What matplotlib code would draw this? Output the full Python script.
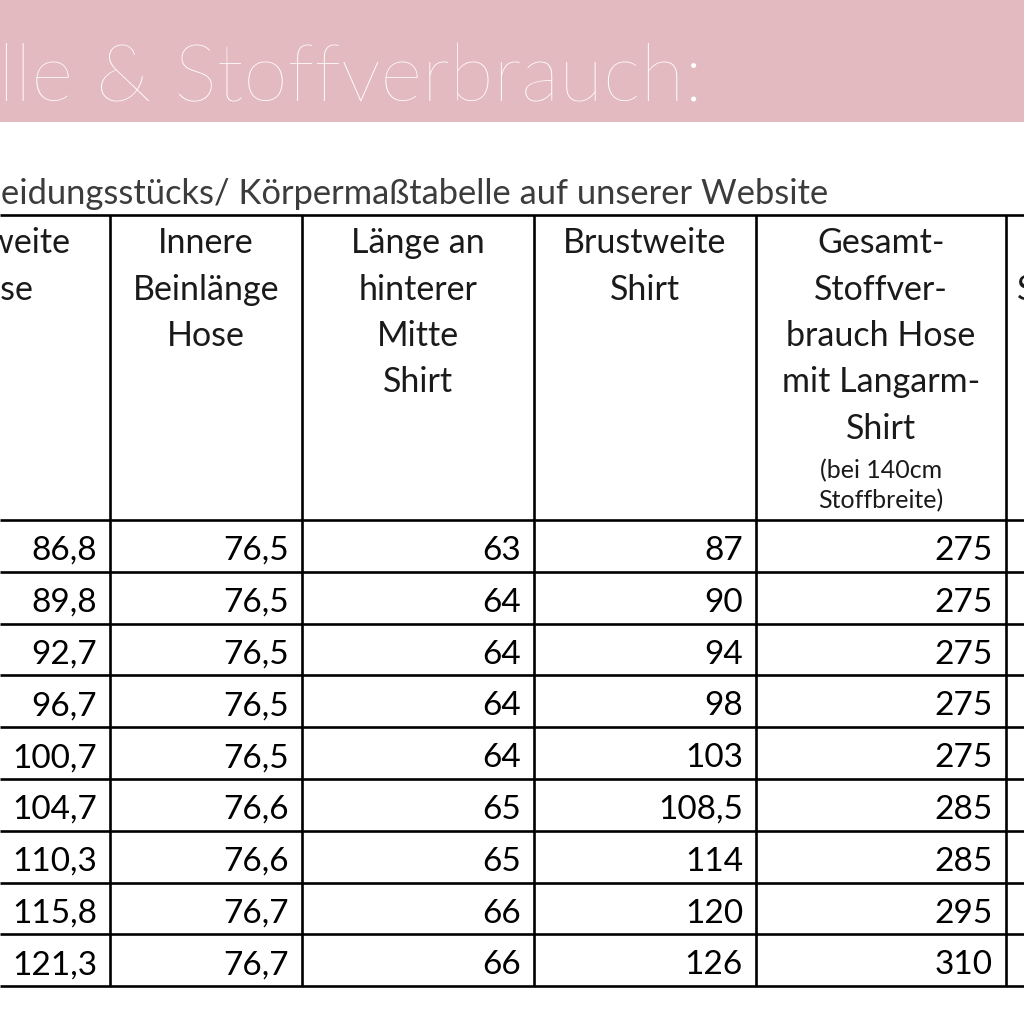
import matplotlib.pyplot as plt

# table content (left part of the table is cut off in the screenshot)
title = "lle & Stoffverbrauch:"
subtitle = "eidungsstücks/ Körpermaßtabelle auf unserer Website"

headers = [
    ["Hüftweite", "Hose"],
    ["Innere", "Beinlänge", "Hose"],
    ["Länge an", "hinterer", "Mitte", "Shirt"],
    ["Brustweite", "Shirt"],
    ["Gesamt-", "Stoffver-", "brauch Hose", "mit Langarm-", "Shirt"],
]
header_cut = ["", "S"]
header_note = ["(bei 140cm", "Stoffbreite)"]

hueftweite = ["86,8", "89,8", "92,7", "96,7", "100,7", "104,7", "110,3", "115,8", "121,3"]
beinlaenge = ["76,5", "76,5", "76,5", "76,5", "76,5", "76,6", "76,6", "76,7", "76,7"]
laenge_hm = ["63", "64", "64", "64", "64", "65", "65", "66", "66"]
brustweite = ["87", "90", "94", "98", "103", "108,5", "114", "120", "126"]
stoffverbrauch = ["275", "275", "275", "275", "275", "285", "285", "295", "310"]
columns = [hueftweite, beinlaenge, laenge_hm, brustweite, stoffverbrauch]

# layout in pixels
col_lines = [110, 302, 534, 756, 1006]
col_centers = [-5, 206, 418, 645, 881]
top = 215
head_bottom = 520
row_h = 51.8
body_font = "Lato"

fig = plt.figure(figsize=(10.24, 10.24), dpi=100)
ax = fig.add_axes([0, 0, 1, 1])
ax.set_xlim(0, 1024)
ax.set_ylim(1024, 0)
ax.axis("off")

# pink banner
ax.add_patch(plt.Rectangle((0, 0), 1024, 122, color="#e3bac0", lw=0))
ax.text(-2, 101, title, fontsize=58, color="white", family="Lato",
        fontweight=200, ha="left", va="baseline")

ax.text(1, 204, subtitle, fontsize=24.8, color="#3c3c3c", family=body_font,
        ha="left", va="baseline")

# grid
n_rows = len(hueftweite)
bottom = head_bottom + n_rows * row_h
ax.hlines([top, head_bottom] + [head_bottom + row_h * (i + 1) for i in range(n_rows)],
          0, 1024, color="black", lw=1.9)
ax.vlines(col_lines, top, bottom, color="black", lw=1.9)

# header text
for c, lines in enumerate(headers):
    for k, line in enumerate(lines):
        ax.text(col_centers[c], 253 + 46.5 * k, line, fontsize=24.5, color="#1a1a1a",
                family=body_font, ha="center", va="baseline")
for k, line in enumerate(header_cut):
    ax.text(1017, 253 + 46.5 * k, line, fontsize=24.5, color="#1a1a1a",
            family=body_font, ha="left", va="baseline")
for k, line in enumerate(header_note):
    ax.text(col_centers[4], 478 + 30 * k, line, fontsize=18, color="#1a1a1a",
            family=body_font, ha="center", va="baseline")

# values, right aligned
for c, vals in enumerate(columns):
    for r, v in enumerate(vals):
        ax.text(col_lines[c] - 13, head_bottom + row_h * r + 40, v, fontsize=24,
                color="black", family=body_font, ha="right", va="baseline")

fig.savefig("out.png", dpi=100)
